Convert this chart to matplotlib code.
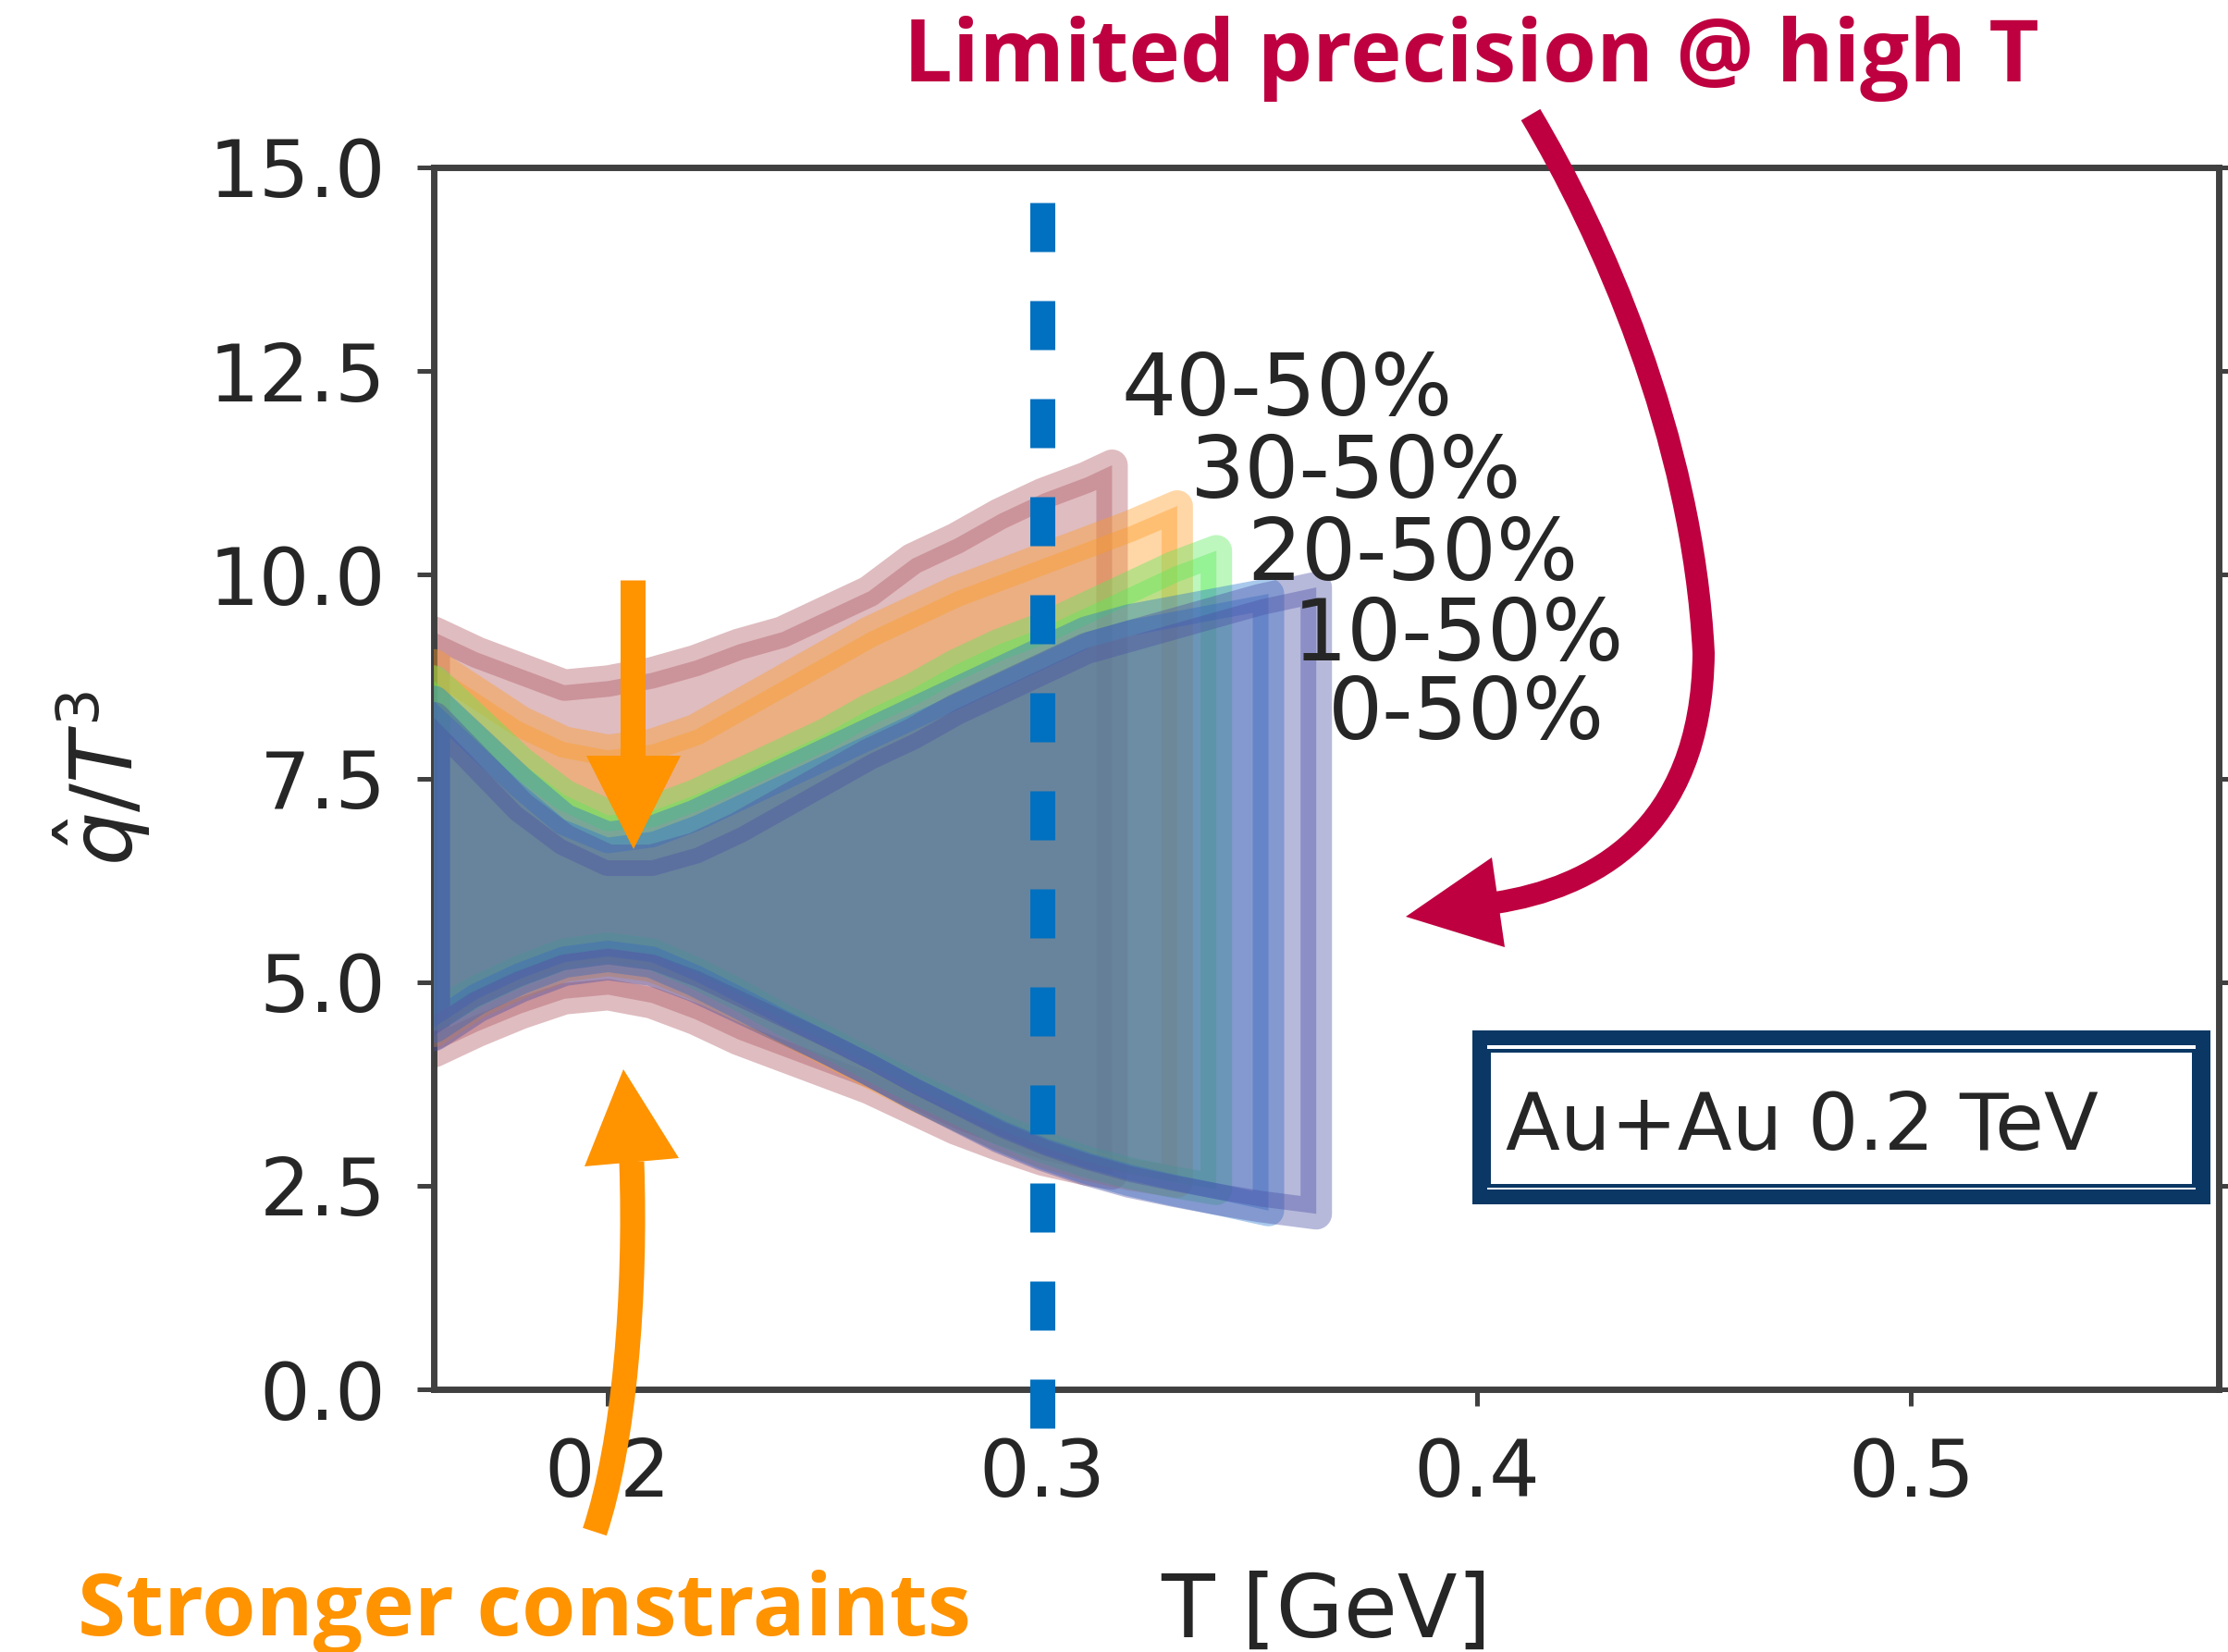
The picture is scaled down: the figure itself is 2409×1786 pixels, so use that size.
import numpy as np
import matplotlib
matplotlib.use("Agg")
import matplotlib.pyplot as plt
from matplotlib.path import Path
from matplotlib.patches import PathPatch, Polygon, Rectangle

plt.rcParams['lines.scale_dashes'] = False

# --- bands: (label, colour, T, lower, upper) ---
T_40 = [0.16, 0.17, 0.18, 0.19, 0.20, 0.21, 0.22, 0.23, 0.24, 0.25, 0.26, 0.27, 0.28, 0.29, 0.30, 0.31, 0.316]
hi_40 = [9.3, 9.05, 8.85, 8.65, 8.7, 8.8, 8.95, 9.15, 9.3, 9.55, 9.8, 10.2, 10.45, 10.75, 11.0, 11.2, 11.35]
lo_40 = [4.15, 4.4, 4.62, 4.8, 4.85, 4.75, 4.55, 4.3, 4.1, 3.9, 3.7, 3.45, 3.2, 3.0, 2.82, 2.7, 2.65]

T_30 = [0.16, 0.17, 0.18, 0.19, 0.20, 0.21, 0.22, 0.23, 0.24, 0.25, 0.26, 0.27, 0.28, 0.29, 0.30, 0.31, 0.32, 0.331]
hi_30 = [8.9, 8.55, 8.2, 7.95, 7.85, 7.92, 8.1, 8.4, 8.7, 9.0, 9.3, 9.55, 9.8, 10.0, 10.2, 10.4, 10.6, 10.85]
lo_30 = [4.4, 4.75, 5.0, 5.2, 5.27, 5.2, 4.98, 4.72, 4.45, 4.18, 3.9, 3.63, 3.38, 3.13, 2.92, 2.76, 2.64, 2.55]

T_20 = [0.16, 0.17, 0.18, 0.19, 0.20, 0.21, 0.22, 0.23, 0.24, 0.25, 0.26, 0.27, 0.28, 0.29, 0.30, 0.31, 0.32, 0.33, 0.34]
hi_20 = [8.7, 8.2, 7.7, 7.3, 7.05, 7.1, 7.3, 7.55, 7.8, 8.05, 8.35, 8.6, 8.9, 9.15, 9.35, 9.6, 9.85, 10.1, 10.3]
lo_20 = [4.6, 4.9, 5.15, 5.35, 5.42, 5.35, 5.12, 4.85, 4.55, 4.28, 4.0, 3.72, 3.46, 3.2, 2.98, 2.8, 2.66, 2.55, 2.46]

T_10 = [0.16, 0.17, 0.18, 0.19, 0.20, 0.21, 0.22, 0.23, 0.24, 0.25, 0.26, 0.27, 0.28, 0.29, 0.30, 0.31, 0.32, 0.33, 0.34, 0.352]
hi_10 = [8.45, 7.95, 7.45, 7.0, 6.78, 6.85, 7.05, 7.3, 7.55, 7.8, 8.05, 8.3, 8.55, 8.8, 9.05, 9.3, 9.45, 9.55, 9.65, 9.77]
lo_10 = [4.45, 4.8, 5.05, 5.25, 5.32, 5.25, 5.02, 4.75, 4.47, 4.2, 3.93, 3.64, 3.38, 3.12, 2.9, 2.72, 2.57, 2.45, 2.34, 2.2]

T_0 = [0.16, 0.17, 0.18, 0.19, 0.20, 0.21, 0.22, 0.23, 0.24, 0.25, 0.26, 0.27, 0.28, 0.29, 0.30, 0.31, 0.32, 0.33, 0.34, 0.35, 0.363]
hi_0 = [8.25, 7.7, 7.15, 6.75, 6.5, 6.5, 6.65, 6.9, 7.2, 7.5, 7.8, 8.05, 8.35, 8.6, 8.85, 9.1, 9.25, 9.4, 9.55, 9.7, 9.85]
lo_0 = [4.35, 4.7, 4.95, 5.15, 5.22, 5.15, 4.95, 4.7, 4.45, 4.2, 3.93, 3.64, 3.37, 3.1, 2.88, 2.7, 2.55, 2.44, 2.34, 2.25, 2.16]

bands = [
    ("40-50%", "#af5862", T_40, lo_40, hi_40, (0.3182, 11.96)),
    ("30-50%", "#ff9d25", T_30, lo_30, hi_30, (0.334, 10.95)),
    ("20-50%", "#5aeb5a", T_20, lo_20, hi_20, (0.3472, 9.94)),
    ("10-50%", "#2a78d0", T_10, lo_10, hi_10, (0.3576, 8.95)),
    ("0-50%", "#4c52a6", T_0, lo_0, hi_0, (0.3657, 7.98)),
]

W, H, DPI = 2409, 1786, 200
PX = 72.0 / DPI  # points per pixel

fig = plt.figure(figsize=(W / DPI, H / DPI), dpi=DPI)
ax = fig.add_axes([469 / W, 1 - 1502 / H, (2399 - 469) / W, (1502 - 181) / H])

for i, (lab, c, T, lo, hi, pos) in enumerate(bands):
    ax.fill_between(T, lo, hi, color=c, alpha=0.4, lw=34 * PX, zorder=2 + i)
    ax.text(pos[0], pos[1], lab, fontsize=33.5, color="#262626",
            ha="left", va="baseline", zorder=10)

# dashed reference line at T = 0.3 GeV
ax.plot([0.3, 0.3], [-0.477, 14.58], color="#0070c0", lw=27 * PX,
        dashes=(53 * PX, 53 * PX), clip_on=False, zorder=8)

ax.set_xlim(0.16, 0.5708)
ax.set_ylim(0, 15)
ax.set_xticks([0.2, 0.3, 0.4, 0.5])
ax.set_yticks([0, 2.5, 5, 7.5, 10, 12.5, 15])
ax.xaxis.set_major_formatter(matplotlib.ticker.FormatStrFormatter('%.1f'))
ax.yaxis.set_major_formatter(matplotlib.ticker.FormatStrFormatter('%.1f'))
ax.tick_params(direction="out", length=6.5, width=1.8, labelsize=31,
               labelcolor="#262626", color="#404040", pad=12, right=True)
for s in ax.spines.values():
    s.set_color("#404040")
    s.set_linewidth(2.5)

ax.set_xlabel("T [GeV]", fontsize=34, color="#262626", labelpad=22)
ax.set_ylabel(r"$\hat{q}/T^3$", fontsize=33, color="#262626", labelpad=22)

# --- slide annotations on a pixel overlay ---
ov = fig.add_axes([0, 0, 1, 1], zorder=20)
ov.set_xlim(0, W)
ov.set_ylim(H, 0)
ov.axis("off")
ov.patch.set_alpha(0)

crimson = "#be0040"
orange = "#ff9300"

ov.text(977, 88, "Limited precision @ high T", fontsize=33.8, fontweight="bold",
        family="Open Sans", color=crimson, ha="left", va="baseline")
ov.text(84, 1768, "Stronger constraints", fontsize=34, fontweight="bold",
        family="Open Sans", color=orange, ha="left", va="baseline")

# crimson curved arrow
verts = [(1655, 124), (1730, 250), (1830, 470), (1842, 706),
         (1840, 900), (1720, 960), (1617, 976)]
codes = [Path.MOVETO, Path.CURVE4, Path.CURVE4, Path.CURVE4,
         Path.CURVE4, Path.CURVE4, Path.CURVE4]
ov.add_patch(PathPatch(Path(verts, codes), fc="none", ec=crimson, lw=24 * PX,
                       capstyle="butt"))
ov.add_patch(Polygon([(1613, 927), (1627, 1024), (1520, 991)], closed=True,
                     fc=crimson, ec="none"))

# orange down arrow
ov.plot([684, 684], [627, 820], color=orange, lw=27 * PX, solid_capstyle="butt")
ov.add_patch(Polygon([(634, 817), (736, 817), (685, 918)], closed=True,
                     fc=orange, ec="none"))

# orange up arrow
verts2 = [(643, 1656), (675, 1560), (688, 1400), (683, 1256)]
codes2 = [Path.MOVETO, Path.CURVE4, Path.CURVE4, Path.CURVE4]
ov.add_patch(PathPatch(Path(verts2, codes2), fc="none", ec=orange, lw=27 * PX,
                       capstyle="butt"))
ov.add_patch(Polygon([(632, 1261), (734, 1252), (674, 1156)], closed=True,
                     fc=orange, ec="none"))

# system box
navy = "#0a3764"
ov.add_patch(Rectangle((1600, 1122), 782, 172, fc="none", ec=navy, lw=16 * PX))
ov.add_patch(Rectangle((1610, 1136), 762, 146, fc="none", ec=navy, lw=4 * PX))
ov.text(1628, 1243, "Au+Au 0.2 TeV", fontsize=31, color="#262626",
        ha="left", va="baseline")

fig.savefig("out.png", dpi=DPI)
